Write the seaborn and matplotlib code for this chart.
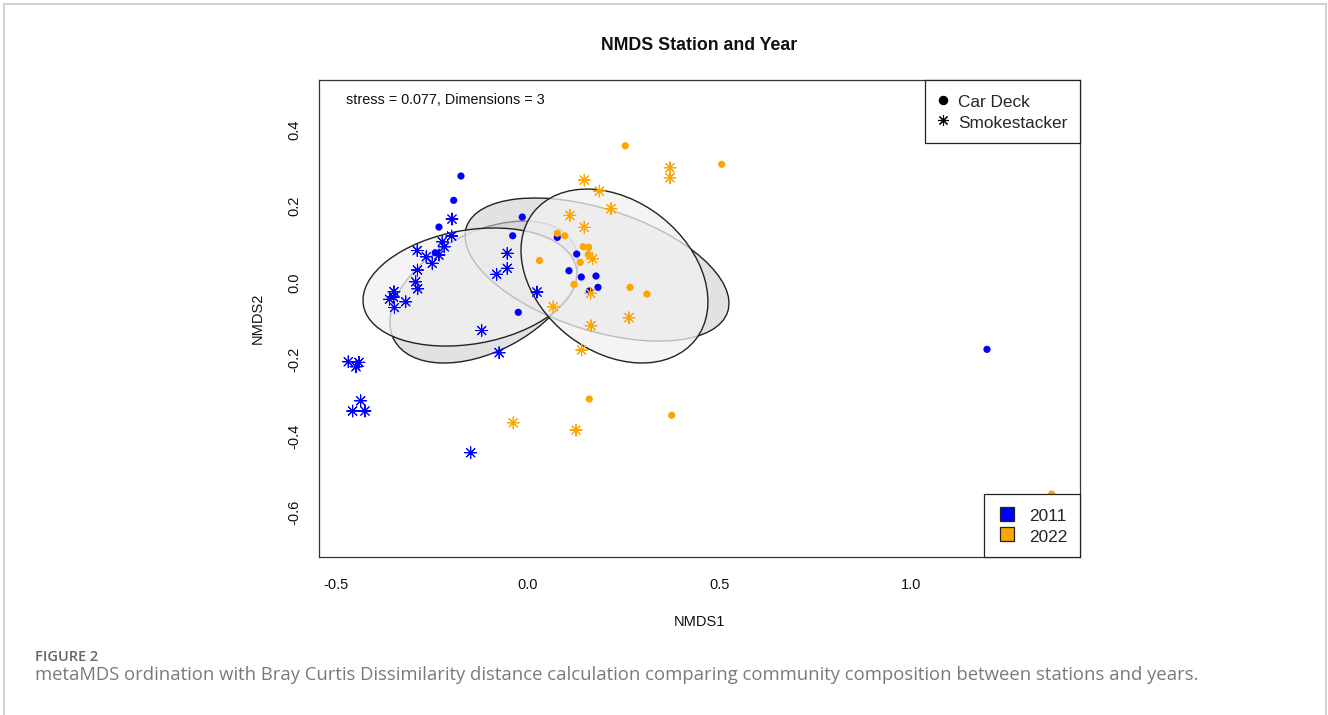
import matplotlib
matplotlib.use("Agg")
import matplotlib.pyplot as plt
from matplotlib.patches import Ellipse
from matplotlib.lines import Line2D
from matplotlib.colors import to_rgba
import seaborn as sns
import pandas as pd

# ---------------- data ----------------
# 2011, Car Deck
cd2011_x = [-0.1735, -0.1926, -0.2310, -0.2406, -0.0136, -0.0386, 0.0778, 0.1284,
            0.1083, 0.1404, 0.1788, 0.1840, 0.1613, -0.0240, 1.1991]
cd2011_y = [0.2784, 0.2150, 0.1453, 0.0783, 0.1714, 0.1226, 0.1184, 0.0749,
            0.0313, 0.0149, 0.0175, -0.0120, -0.0217, -0.0772, -0.1738]
# 2011, Smokestacker
ss2011_x = [-0.1970, -0.1978, -0.2223, -0.2171, -0.2310, -0.2876, -0.2641, -0.2484,
            -0.2871, -0.2918, -0.2865, -0.3484, -0.3601, -0.3497, -0.3471, -0.3178,
            -0.0527, -0.0527, -0.0804, 0.0248, -0.1195, -0.0739, -0.4676, -0.4475,
            -0.4397, -0.4353, -0.4562, -0.4241, -0.1482]
ss2011_y = [0.1662, 0.1218, 0.1070, 0.0939, 0.0723, 0.0840, 0.0678, 0.0506,
            0.0331, 0.0026, -0.0157, -0.0235, -0.0433, -0.0373, -0.0647, -0.0496,
            0.0767, 0.0376, 0.0219, -0.0243, -0.1247, -0.1826, -0.2061, -0.2192,
            -0.2077, -0.3079, -0.3347, -0.3347, -0.4435]
# 2022, Car Deck
cd2022_x = [0.2552, 0.5068, 0.0778, 0.0971, 0.0313, 0.1456, 0.1597, 0.1587,
            0.1378, 0.1213, 0.2675, 0.3118, 0.1613, 0.3763, 1.3680]
cd2022_y = [0.3574, 0.3089, 0.1289, 0.1226, 0.0579, 0.0939, 0.0924, 0.0741,
            0.0532, -0.0042, -0.0120, -0.0295, -0.3034, -0.3459, -0.5513]
# 2022, Smokestacker
ss2022_x = [0.3719, 0.3719, 0.1482, 0.1874, 0.2179, 0.1109, 0.1482, 0.1701,
            0.1649, 0.0673, 0.2649, 0.1657, 0.1414, -0.0371, 0.1266]
ss2022_y = [0.3000, 0.2739, 0.2679, 0.2392, 0.1931, 0.1758, 0.1445, 0.0626,
            -0.0277, -0.0626, -0.0913, -0.1122, -0.1756, -0.3653, -0.3843]

# ordination ellipses: (centre x, centre y, width, height, angle)
ell_under_x = [-0.1135, 0.1814]
ell_under_y = [-0.0243, 0.0344]
ell_under_w = [0.5313, 0.7166]
ell_under_h = [0.3100, 0.3168]
ell_under_a = [28.0, -17.9]
ell_over_x = [-0.1501, 0.2270]
ell_over_y = [-0.0112, 0.0175]
ell_over_w = [0.5642, 0.5376]
ell_over_h = [0.2970, 0.3935]
ell_over_a = [9.8, -38.1]

years = ["2011", "2022"]
stations = ["Car Deck", "Smokestacker"]
year_colors = {"2011": "#0000FF", "2022": "#FFA500"}
xticks = [-0.5, 0.0, 0.5, 1.0]
yticks = [-0.6, -0.4, -0.2, 0.0, 0.2, 0.4]

rows = []
for xs, ys, yr, st in [(cd2011_x, cd2011_y, "2011", "Car Deck"),
                       (ss2011_x, ss2011_y, "2011", "Smokestacker"),
                       (cd2022_x, cd2022_y, "2022", "Car Deck"),
                       (ss2022_x, ss2022_y, "2022", "Smokestacker")]:
    for a, b in zip(xs, ys):
        rows.append({"NMDS1": a, "NMDS2": b, "Year": yr, "Station": st})
df = pd.DataFrame(rows)

# ---------------- figure ----------------
sns.set_style("white")
plt.rcParams["font.family"] = ["Liberation Sans", "DejaVu Sans"]

W, H = 1328, 715
fig = plt.figure(figsize=(W / 100, H / 100), dpi=100)
ax_l, ax_r, ax_t, ax_b = 319, 1079.5, 80, 557
ax = fig.add_axes([ax_l / W, 1 - ax_b / H, (ax_r - ax_l) / W, (ax_b - ax_t) / H])
ax.set_xlim(-0.544, 1.4405)
ax.set_ylim(-0.7156, 0.529)

edge = "#222222"
for i in range(2):
    ax.add_patch(Ellipse((ell_under_x[i], ell_under_y[i]), ell_under_w[i], ell_under_h[i],
                         angle=ell_under_a[i], facecolor=to_rgba("#cfcfcf", 0.6),
                         edgecolor=edge, linewidth=1.0, zorder=1))
for i in range(2):
    ax.add_patch(Ellipse((ell_over_x[i], ell_over_y[i]), ell_over_w[i], ell_over_h[i],
                         angle=ell_over_a[i], facecolor=to_rgba("#f1f1f1", 0.75),
                         edgecolor=edge, linewidth=1.0, zorder=1.5))

sns.scatterplot(data=df[df["Station"] == "Car Deck"], x="NMDS1", y="NMDS2",
                hue="Year", hue_order=years, palette=year_colors, marker="o",
                s=27, linewidth=0, legend=False, ax=ax, zorder=3)
sns.scatterplot(data=df[df["Station"] == "Smokestacker"], x="NMDS1", y="NMDS2",
                hue="Year", hue_order=years, palette=year_colors, marker=(8, 2, 0),
                s=72, linewidth=0.75, legend=False, ax=ax, zorder=3)

ax.set_xticks(xticks)
ax.set_xticklabels([f"{v:.1f}" for v in xticks])
ax.set_yticks(yticks)
ax.set_yticklabels([f"{v:.1f}" for v in yticks])
ax.tick_params(direction="out", length=5.5, width=0.8, colors="#222222",
               labelsize=10.5, labelcolor="#111111")
ax.tick_params(axis="x", pad=9.5)
ax.tick_params(axis="y", pad=7)
plt.setp(ax.get_yticklabels(), rotation=90, va="center")
for sp in ax.spines.values():
    sp.set_color("#333333")
    sp.set_linewidth(0.9)

ax.set_xlabel("NMDS1", fontsize=10.5, color="#111111")
ax.set_ylabel("NMDS2", fontsize=10.5, color="#111111")
ax.xaxis.set_label_coords(0.5, (ax_b - 621.5) / (ax_b - ax_t))
ax.xaxis.label.set_va("center")
ax.yaxis.set_label_coords((258 - ax_l) / (ax_r - ax_l), 0.5)
ax.yaxis.label.set_va("center")

fig.text((ax_l + ax_r) / 2 / W, 1 - 45 / H, "NMDS Station and Year",
         ha="center", va="center", fontsize=12.8, fontweight="bold", color="#111111")
ax.text((346 - ax_l) / (ax_r - ax_l), (ax_b - 100) / (ax_b - ax_t),
        "stress = 0.077, Dimensions = 3", transform=ax.transAxes,
        ha="left", va="center", fontsize=10.4, color="#111111")

# legends
st_handles = [Line2D([], [], linestyle="none", marker="o", color="black", markersize=5.8),
              Line2D([], [], linestyle="none", marker=(8, 2, 0), color="black",
                     markersize=8, markeredgewidth=0.8)]
leg1 = ax.legend(st_handles, stations, loc="upper right", bbox_to_anchor=(1, 1),
                 borderaxespad=0, fontsize=12.4, frameon=True, fancybox=False,
                 edgecolor="#222222", framealpha=1, borderpad=0.72, handlelength=0.62,
                 handleheight=1.2, handletextpad=0.55, labelspacing=0.17)
leg1.get_frame().set_linewidth(0.9)
leg1.set_zorder(6)
ax.add_artist(leg1)

yr_handles = [Line2D([], [], linestyle="none", marker="s", markerfacecolor=year_colors[y],
                     markeredgecolor="#222222", markeredgewidth=0.9, markersize=9.4)
              for y in years]
leg2 = ax.legend(yr_handles, years, loc="lower right", bbox_to_anchor=(1, 0),
                 borderaxespad=0, fontsize=12.4, frameon=True, fancybox=False,
                 edgecolor="#222222", framealpha=1, borderpad=0.72, handlelength=1.13,
                 handleheight=1.2, handletextpad=0.72, labelspacing=0.17)
leg2.get_frame().set_linewidth(0.9)
leg2.set_zorder(6)

# caption
fig.text(35 / W, 1 - 660.7 / H, "FIGURE 2", ha="left", va="baseline",
         fontsize=10.5, fontweight="semibold", color="#666666", family=["Open Sans", "DejaVu Sans"])
fig.text(35 / W, 1 - 679.5 / H,
         "metaMDS ordination with Bray Curtis Dissimilarity distance calculation comparing "
         "community composition between stations and years.",
         ha="left", va="baseline", fontsize=13.3, color="#7a7a7a",
         family=["Open Sans", "DejaVu Sans"])

# outer frame of the figure panel
fc = "#c8c8c8"
fig.add_artist(Line2D([4 / W, 4 / W], [0, 1 - 4 / H], transform=fig.transFigure, color=fc, lw=1.2))
fig.add_artist(Line2D([4 / W, 1326 / W], [1 - 4 / H, 1 - 4 / H], transform=fig.transFigure, color=fc, lw=1.2))
fig.add_artist(Line2D([1326 / W, 1326 / W], [0, 1 - 4 / H], transform=fig.transFigure, color=fc, lw=1.2))

fig.savefig("out.png", dpi=100, facecolor="white")
